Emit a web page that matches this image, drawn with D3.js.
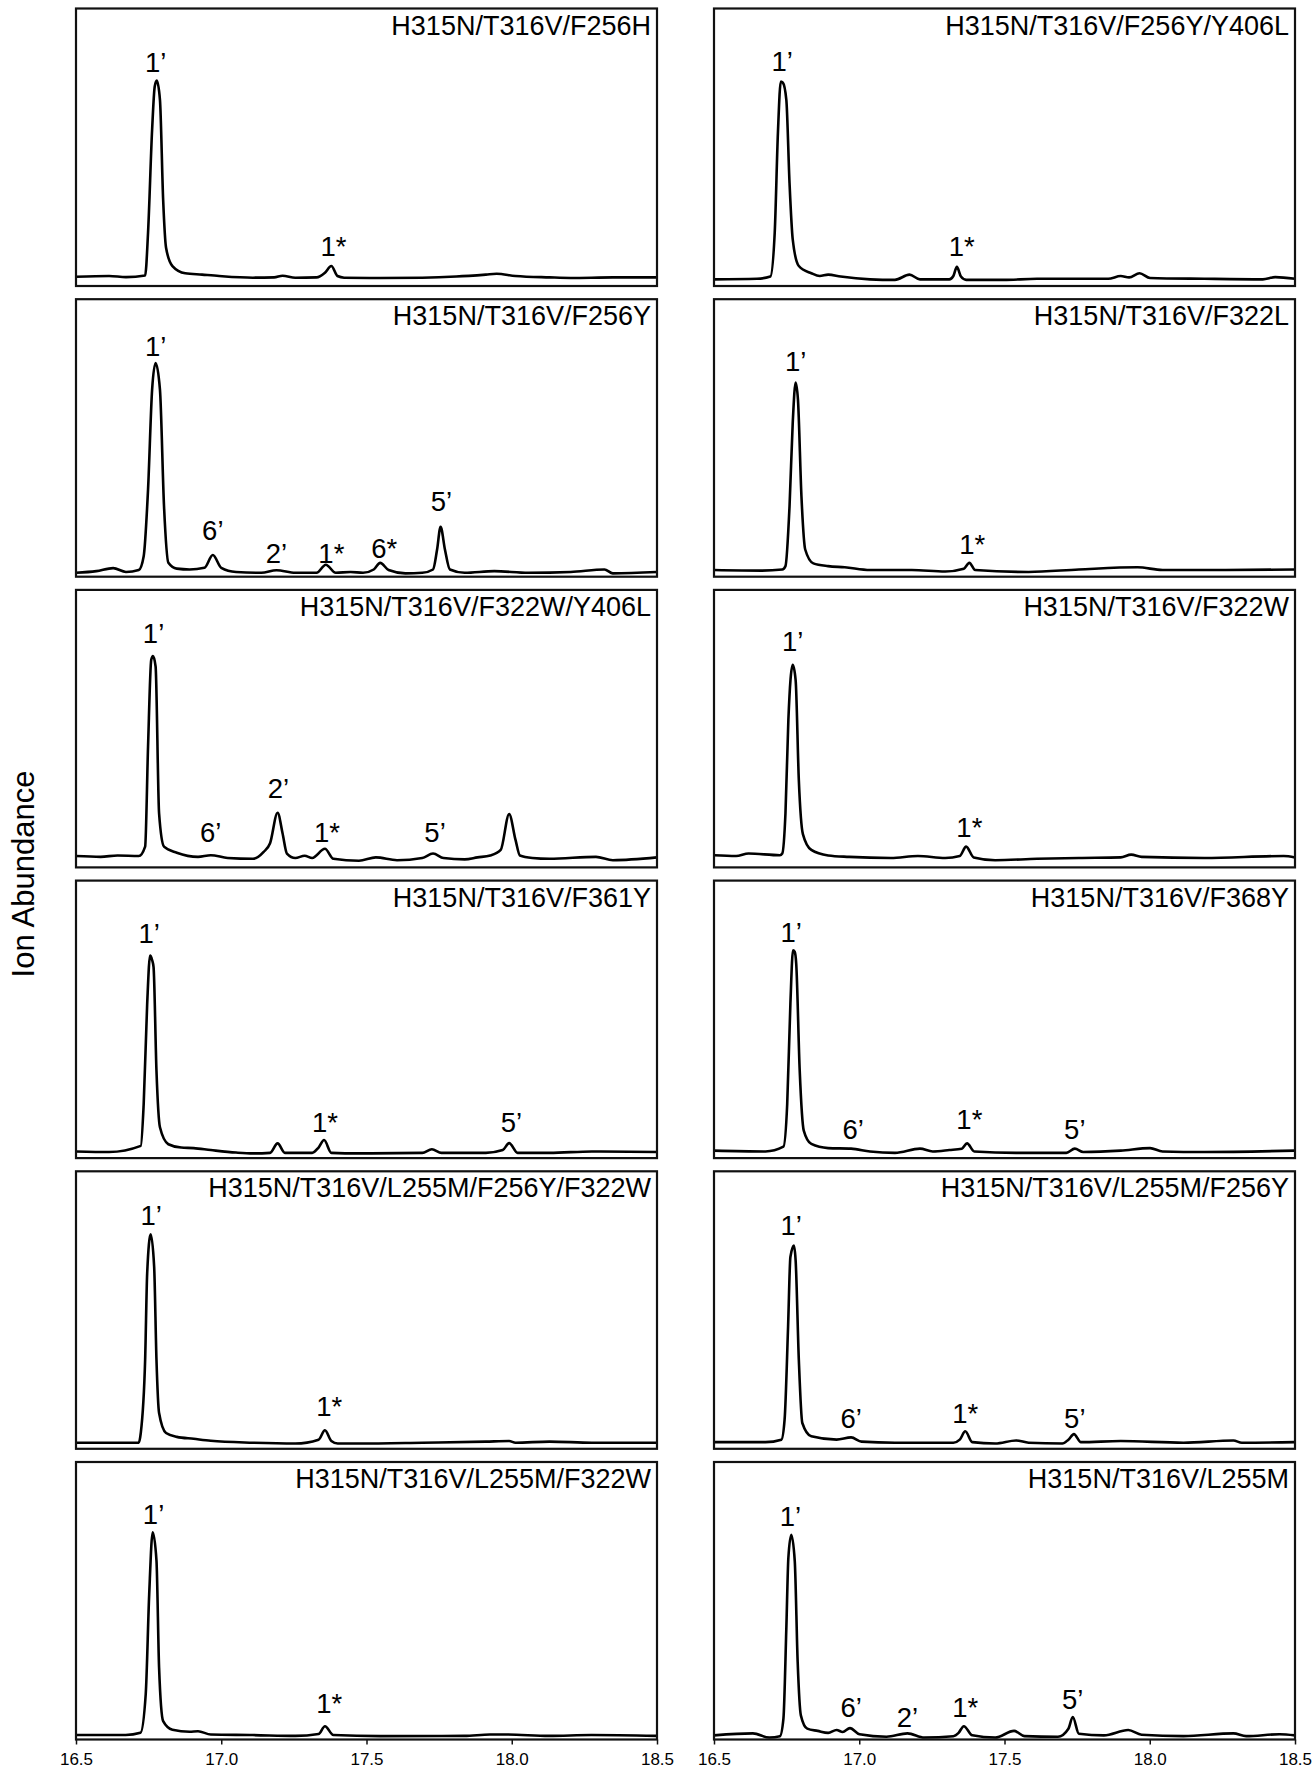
<!DOCTYPE html>
<html lang="en">
<head>
<meta charset="UTF-8">
<title>Ion Abundance chromatograms</title>
<script src="https://d3js.org/d3.v7.min.js"></script>
<style>
  body { margin: 0; background: #fff; }
  svg { display: block; font-family: "Liberation Sans", Arial, sans-serif; }
  .frame { fill: none; stroke: #111; stroke-width: 2.2px; }
  .trace { fill: none; stroke: #000; stroke-width: 2.6px; stroke-linejoin: round; }
  .title { font-size: 27px; text-anchor: end; fill: #000; }
  .peak { font-size: 27.5px; text-anchor: middle; fill: #000; }
  .axis text { font-size: 17px; fill: #000; }
  .axis line { stroke: #111; stroke-width: 1.5px; }
</style>
</head>
<body>
<div id="chart"></div>
<script>
// retention time ticks (min)
const tickValues = [16.5, 17.0, 17.5, 18.0, 18.5];
const yLabel = "Ion Abundance";

// panel titles, left column then right column (top to bottom)
const titlesLeft = ["H315N/T316V/F256H", "H315N/T316V/F256Y", "H315N/T316V/F322W/Y406L",
  "H315N/T316V/F361Y", "H315N/T316V/L255M/F256Y/F322W", "H315N/T316V/L255M/F322W"];
const titlesRight = ["H315N/T316V/F256Y/Y406L", "H315N/T316V/F322L", "H315N/T316V/F322W",
  "H315N/T316V/F368Y", "H315N/T316V/L255M/F256Y", "H315N/T316V/L255M"];

// traces: [retention time, abundance as % of panel height]
const traceF256H = [[16.5,3.35],[16.614,3.6],[16.672,3.2],[16.738,3.8],[16.748,19.2],[16.762,56.3],[16.771,71.9],[16.778,74],[16.789,67.1],[16.8,31.1],[16.81,13.8],[16.832,7.2],[16.876,4.6],[16.934,4.1],[16.993,3.6],[17.109,3],[17.182,3.1],[17.211,3.7],[17.255,3],[17.328,3.1],[17.357,4.8],[17.379,7.2],[17.4,3.6],[17.423,3],[17.547,2.9],[17.692,3],[17.809,3.4],[17.911,4.1],[17.948,4.4],[18.013,3.6],[18.13,3.1],[18.203,2.9],[18.348,3.1],[18.5,3.1]];
const traceF256Y = [[16.5,1.4],[16.57,2],[16.628,3.1],[16.672,1.7],[16.716,2.4],[16.733,7.4],[16.748,31.4],[16.762,67.4],[16.774,77],[16.789,67.4],[16.803,25.4],[16.818,5],[16.847,2.9],[16.891,2.6],[16.942,3.2],[16.971,7.8],[17.0,3.2],[17.051,1.7],[17.138,1.4],[17.19,2.3],[17.255,1.4],[17.328,1.4],[17.36,4.3],[17.394,1.4],[17.445,1.7],[17.488,1.4],[17.525,2.6],[17.547,5],[17.576,2.4],[17.634,1.2],[17.692,1.4],[17.729,2.6],[17.743,9.8],[17.755,18],[17.77,9.8],[17.787,2.6],[17.838,1.4],[17.94,2],[18.057,1.4],[18.203,1.7],[18.319,2.6],[18.348,1.2],[18.5,1.7]];
const traceF322WY406L = [[16.5,4.1],[16.585,3.8],[16.643,4.3],[16.716,4.1],[16.738,7.5],[16.748,43.5],[16.759,74.8],[16.765,76.2],[16.774,72.4],[16.786,19.5],[16.803,7.5],[16.847,5.3],[16.92,3.8],[16.964,4.4],[17.022,3.4],[17.109,3.1],[17.146,5.6],[17.168,8.7],[17.194,19.7],[17.211,12.3],[17.226,5],[17.255,3.4],[17.287,4.2],[17.313,3.4],[17.357,6.7],[17.386,3.1],[17.474,2.4],[17.532,3.6],[17.605,2.6],[17.692,3.4],[17.729,5],[17.765,3.4],[17.838,2.9],[17.882,3.6],[17.926,4.3],[17.962,6.3],[17.991,19.2],[18.013,9.9],[18.028,4.3],[18.071,3.4],[18.13,3.1],[18.29,3.8],[18.348,2.6],[18.5,3.6]];
const traceF361Y = [[16.5,2.4],[16.614,2.2],[16.723,4.4],[16.733,19.5],[16.745,55.5],[16.755,73],[16.762,71.4],[16.767,68.8],[16.777,31.5],[16.789,11.1],[16.818,5],[16.862,3.8],[16.905,3.6],[16.964,2.9],[17.051,2],[17.109,1.7],[17.168,1.9],[17.194,5.3],[17.219,1.9],[17.313,1.9],[17.335,3.8],[17.354,6.5],[17.379,1.9],[17.474,1.7],[17.692,1.9],[17.725,3.2],[17.758,1.9],[17.911,1.9],[17.969,2.9],[17.991,5.4],[18.02,1.9],[18.13,1.9],[18.276,2.4],[18.5,2.2]];
const traceL255MF256YF322W = [[16.5,2.2],[16.614,2.2],[16.716,2.2],[16.723,5.7],[16.738,32.1],[16.745,63.2],[16.757,77.3],[16.769,65.6],[16.777,32.1],[16.786,12.9],[16.81,5.7],[16.847,4.3],[16.905,3.6],[16.964,2.9],[17.109,2.2],[17.255,1.9],[17.335,3.3],[17.357,6.7],[17.379,2.8],[17.401,1.9],[17.474,1.9],[17.692,2.2],[17.911,2.6],[17.991,2.8],[18.013,2.2],[18.13,2.6],[18.276,2.2],[18.5,2.2]];
const traceL255MF322W = [[16.5,1.6],[16.583,1.6],[16.671,1.6],[16.722,2.4],[16.74,16.3],[16.752,52.4],[16.764,74.7],[16.777,64.5],[16.786,25.9],[16.8,6.6],[16.832,3.5],[16.891,2.8],[16.92,3],[16.964,1.8],[17.109,1.6],[17.255,1.3],[17.335,2],[17.357,4.8],[17.386,1.6],[17.547,1.2],[17.837,1.3],[17.925,1.8],[17.983,1.8],[18.128,1.3],[18.274,1.6],[18.5,1.3]];
const traceF256YY406L = [[16.5,2.4],[16.648,2.6],[16.694,3.4],[16.709,19.2],[16.72,55.1],[16.73,73.7],[16.737,73.3],[16.749,67.1],[16.76,37.1],[16.771,16.8],[16.792,7.2],[16.835,4.6],[16.864,3.6],[16.893,4.1],[16.936,3.4],[17.037,2.4],[17.123,2.2],[17.173,4.1],[17.209,2.4],[17.31,2.4],[17.324,3.6],[17.336,6.9],[17.35,3.4],[17.368,2.2],[17.497,2.2],[17.612,2.6],[17.756,2.6],[17.857,2.6],[17.9,3.6],[17.929,3.1],[17.965,4.6],[18.001,2.9],[18.188,2.6],[18.389,2.4],[18.432,3.2],[18.5,2.6]];
const traceF322L = [[16.5,2.4],[16.663,2.2],[16.735,2.6],[16.746,3.8],[16.76,25.4],[16.771,55.4],[16.781,70],[16.789,63.8],[16.801,29],[16.814,9.8],[16.842,4.8],[16.893,3.8],[16.95,3.4],[17.037,2.4],[17.181,2.4],[17.296,1.9],[17.36,2.9],[17.379,5],[17.399,2.4],[17.583,1.7],[17.756,2.6],[17.958,3.4],[18.044,2.4],[18.26,2.4],[18.5,2.6]];
const traceF322W = [[16.5,4.4],[16.576,4.1],[16.619,5],[16.727,4.4],[16.735,5],[16.746,19.5],[16.756,53.1],[16.771,73],[16.781,67.5],[16.792,31.5],[16.806,12],[16.835,6.3],[16.893,4.3],[16.965,3.8],[17.109,3.4],[17.202,4.1],[17.296,3.4],[17.346,4.1],[17.368,7.5],[17.394,3.6],[17.468,2.6],[17.612,3.1],[17.756,3.4],[17.9,3.6],[17.936,4.6],[17.972,3.8],[18.188,3.4],[18.461,4.1],[18.5,3.6]];
const traceF368Y = [[16.5,2.7],[16.677,2.4],[16.739,4.1],[16.752,19.5],[16.763,55.7],[16.772,74.9],[16.778,74.3],[16.783,70.1],[16.795,31.6],[16.809,9.9],[16.835,5.1],[16.893,3.6],[16.972,3.4],[17.037,2.4],[17.123,1.9],[17.209,3.4],[17.253,2.4],[17.31,2.9],[17.353,3.4],[17.371,5.3],[17.396,2.4],[17.54,1.9],[17.713,1.9],[17.742,3.4],[17.771,2.2],[17.9,2.7],[18.001,3.6],[18.044,2.4],[18.188,2.2],[18.5,2.7]];
const traceL255MF256Y = [[16.5,2.4],[16.677,2.4],[16.732,3.3],[16.743,10.5],[16.755,44],[16.763,69.1],[16.775,73.2],[16.781,67.9],[16.792,32.1],[16.804,9.3],[16.835,4.5],[16.922,3.3],[16.972,4.1],[17.008,2.6],[17.123,2.2],[17.324,2.2],[17.346,3.3],[17.365,6.3],[17.389,2.4],[17.468,1.9],[17.54,3],[17.583,2.2],[17.699,1.9],[17.72,3.3],[17.739,5.3],[17.763,2.4],[17.9,2.8],[18.116,2.2],[18.288,3],[18.317,2.2],[18.5,2.4]];
const traceL255M = [[16.5,1.5],[16.634,2.2],[16.691,0.7],[16.727,1.2],[16.739,7.5],[16.749,40.1],[16.756,65.5],[16.766,73.8],[16.778,64.3],[16.788,28],[16.799,8.7],[16.821,3.9],[16.857,3.1],[16.893,2.4],[16.922,3.4],[16.943,2.7],[16.968,4.1],[17.001,1.9],[17.094,1],[17.166,2.2],[17.224,0.7],[17.324,1.2],[17.342,2.4],[17.36,4.8],[17.389,1.5],[17.468,0.7],[17.533,3.1],[17.569,1.2],[17.684,1],[17.72,3.9],[17.735,8.1],[17.756,2.1],[17.842,1.5],[17.926,3.4],[17.972,1.7],[18.116,1.2],[18.288,2.2],[18.332,1.2],[18.447,1.9],[18.5,1.5]];

const tracesLeft = [traceF256H, traceF256Y, traceF322WY406L, traceF361Y, traceL255MF256YF322W, traceL255MF322W];
const tracesRight = [traceF256YY406L, traceF322L, traceF322W, traceF368Y, traceL255MF256Y, traceL255M];

// peak annotations: [text, retention time, baseline height %]
const peaksLeft = [
  [["1\u2019",16.774,77.2],["1*",17.386,10.8]],
  [["1\u2019",16.774,79.6],["6\u2019",16.971,13.4],["2\u2019",17.19,4.8],["1*",17.379,4.8],["6*",17.561,6.8],["5\u2019",17.758,23.6]],
  [["1\u2019",16.767,80.8],["6\u2019",16.964,9.3],["2\u2019",17.197,24.9],["1*",17.364,9.3],["5\u2019",17.736,9.3]],
  [["1\u2019",16.752,77.4],["1*",17.357,9.3],["5\u2019",17.999,9.3]],
  [["1\u2019",16.759,80.5],["1*",17.372,11.7]],
  [["1\u2019",16.767,77.7],["1*",17.372,9.6]]
];
const peaksRight = [
  [["1\u2019",16.735,77.6],["1*",17.353,10.8]],
  [["1\u2019",16.781,74],["1*",17.389,8]],
  [["1\u2019",16.771,77.8],["1*",17.379,11]],
  [["1\u2019",16.766,78],["6\u2019",16.979,6.9],["1*",17.379,10.5],["5\u2019",17.742,6.9]],
  [["1\u2019",16.766,77],["6\u2019",16.972,7.5],["1*",17.365,9.3],["5\u2019",17.742,7.5]],
  [["1\u2019",16.763,77],["6\u2019",16.972,8.1],["2\u2019",17.166,4.5],["1*",17.365,8.1],["5\u2019",17.735,11.1]]
];

const W = 1314, Hfig = 1771;
const colX = [76, 714], panelW = 581;
const rowTop = 8.5, rowStep = 290.7, panelH = 277.5;

const svg = d3.select("#chart").append("svg")
  .attr("width", W).attr("height", Hfig);

const x = d3.scaleLinear().domain([16.5, 18.5]).range([0, panelW]);
const y = d3.scaleLinear().domain([0, 100]).range([panelH, 0]);
const line = d3.line().x(d => x(d[0])).y(d => y(d[1])).curve(d3.curveMonotoneX);

const columns = [
  { titles: titlesLeft, traces: tracesLeft, peaks: peaksLeft },
  { titles: titlesRight, traces: tracesRight, peaks: peaksRight }
];

columns.forEach((col, c) => {
  col.traces.forEach((trace, r) => {
    const g = svg.append("g")
      .attr("transform", `translate(${colX[c]},${rowTop + r * rowStep})`);

    g.append("path").datum(trace).attr("class", "trace").attr("d", line);

    g.append("rect").attr("class", "frame")
      .attr("width", panelW).attr("height", panelH);

    g.append("text").attr("class", "title")
      .attr("x", panelW - 6).attr("y", 26)
      .text(col.titles[r]);

    g.selectAll(".peak").data(col.peaks[r]).enter().append("text")
      .attr("class", "peak")
      .attr("x", d => x(d[1]))
      .attr("y", d => y(d[2]))
      .text(d => d[0]);

    if (r === col.traces.length - 1) {
      const ax = g.append("g").attr("class", "axis")
        .attr("transform", `translate(0,${panelH})`)
        .call(d3.axisBottom(x).tickValues(tickValues)
          .tickFormat(d3.format(".1f")).tickSize(5).tickPadding(8));
      ax.select(".domain").remove();
      ax.attr("font-family", null).attr("font-size", null);
    }
  });
});

svg.append("text")
  .attr("transform", `translate(34,${rowTop + (5 * rowStep + panelH) / 2}) rotate(-90)`)
  .attr("text-anchor", "middle")
  .style("font-size", "31px")
  .text(yLabel);
</script>
</body>
</html>
